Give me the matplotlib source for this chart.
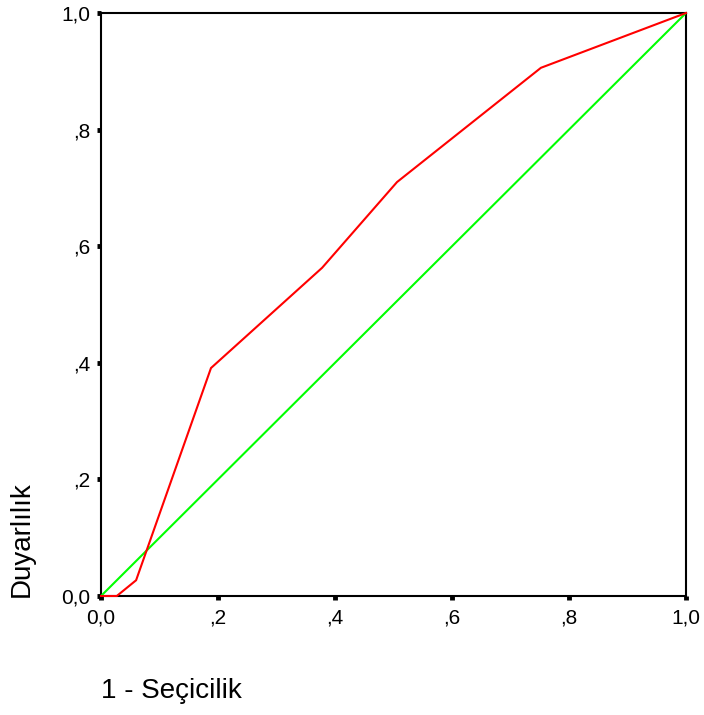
import matplotlib
matplotlib.use("Agg")
import matplotlib.pyplot as plt

plt.rcParams['font.family'] = ['Liberation Sans', 'DejaVu Sans']

# ROC curve coordinates (1 - specificity, sensitivity)
fpr = [0.0, 0.027, 0.060, 0.188, 0.378, 0.506, 0.752, 1.0]
tpr = [0.0, 0.0, 0.027, 0.391, 0.563, 0.710, 0.906, 1.0]

# Reference (chance) line
ref_x = [0.0, 1.0]
ref_y = [0.0, 1.0]

tick_vals = [0.0, 0.2, 0.4, 0.6, 0.8, 1.0]
tick_labels = ["0,0", ",2", ",4", ",6", ",8", "1,0"]

fig = plt.figure(figsize=(7.04, 7.15), dpi=100)
ax = fig.add_axes([101 / 704, 1 - 596 / 715, 585 / 704, 583 / 715])

ax.plot(ref_x, ref_y, color="#00FF00", lw=1.5, solid_capstyle="butt",
        zorder=4, clip_on=False)
ax.plot(fpr, tpr, color="#FF0000", lw=1.5, solid_joinstyle="miter",
        zorder=5, clip_on=False)

ax.set_xlim(0, 1)
ax.set_ylim(0, 1)
ax.set_xticks(tick_vals)
ax.set_xticklabels(tick_labels)
ax.set_yticks(tick_vals)
ax.set_yticklabels(tick_labels)

for s in ax.spines.values():
    s.set_linewidth(1.5)
    s.set_color("black")
    s.set_zorder(3)

ax.tick_params(axis="both", direction="out", length=3, width=3.5,
               labelsize=15, colors="black")
ax.tick_params(axis="x", pad=6)
ax.tick_params(axis="y", pad=4.5)

fig.text(22 / 704, 1 - 597 / 715, "Duyarlılık", rotation=90,
         ha="center", va="bottom", fontsize=20)
fig.text(101 / 704, 1 - 698 / 715, "1 - Seçicilik",
         ha="left", va="baseline", fontsize=20)

fig.savefig("out.png", dpi=100, facecolor="white")
